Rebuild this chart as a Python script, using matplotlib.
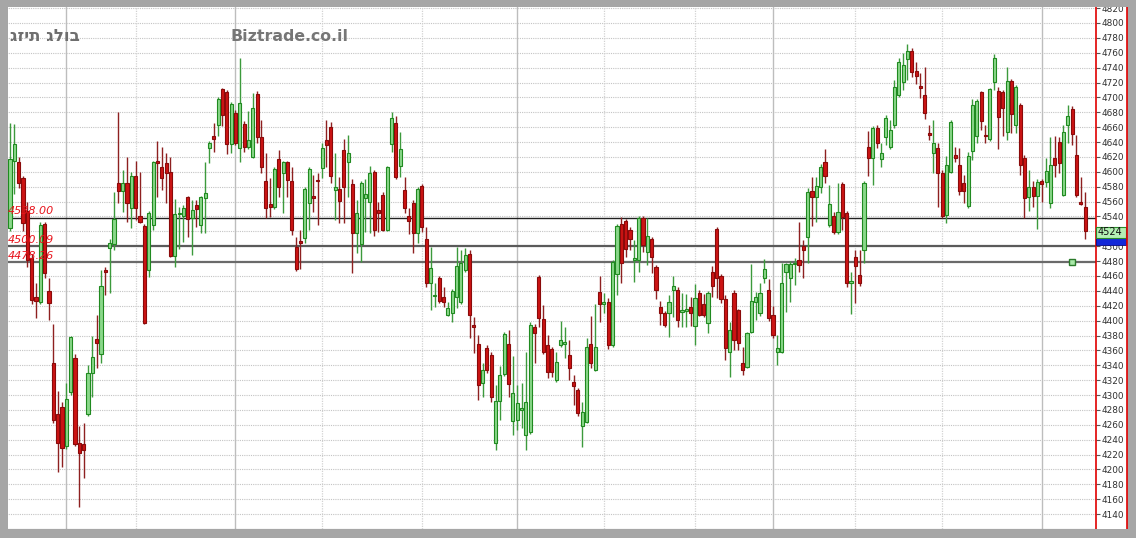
import matplotlib
matplotlib.use('Agg')
import matplotlib.pyplot as plt
import matplotlib.transforms as mtransforms
from matplotlib.patches import Rectangle
from matplotlib.lines import Line2D
import numpy as np

# daily candles (open, high, low, close)
opens = [4524, 4615, 4613, 4592, 4548, 4484, 4432, 4425, 4530, 4440,
         4343, 4274, 4284, 4231, 4304, 4350, 4235, 4234, 4274, 4330,
         4375, 4355, 4468, 4498, 4503, 4585, 4574, 4585, 4551, 4594,
         4541, 4527, 4468, 4528, 4614, 4606, 4612, 4600, 4487, 4543,
         4541, 4566, 4538, 4555, 4528, 4565, 4632, 4648, 4663, 4711,
         4707, 4637, 4679, 4632, 4664, 4633, 4620, 4704, 4647, 4588,
         4557, 4553, 4617, 4598, 4613, 4588, 4499, 4507, 4511, 4558,
         4567, 4589, 4605, 4643, 4660, 4576, 4577, 4629, 4613, 4584,
         4518, 4503, 4565, 4559, 4600, 4549, 4569, 4522, 4637, 4666,
         4608, 4576, 4540, 4558, 4518, 4581, 4510, 4451, 4433, 4457,
         4432, 4408, 4410, 4432, 4425, 4468, 4490, 4394, 4369, 4316,
         4363, 4354, 4235, 4292, 4328, 4369, 4265, 4266, 4280, 4246,
         4250, 4391, 4459, 4402, 4367, 4362, 4320, 4367, 4369, 4354,
         4317, 4307, 4258, 4264, 4369, 4334, 4438, 4423, 4425, 4367,
         4463, 4530, 4534, 4522, 4481, 4481, 4538, 4492, 4510, 4472,
         4418, 4410, 4410, 4441, 4441, 4412, 4413, 4418, 4393, 4437,
         4422, 4397, 4465, 4523, 4460, 4429, 4358, 4437, 4414, 4343,
         4338, 4385, 4425, 4410, 4457, 4441, 4407, 4358, 4358, 4465,
         4457, 4476, 4481, 4500, 4512, 4574, 4566, 4580, 4613, 4528,
         4541, 4519, 4584, 4545, 4451, 4485, 4461, 4495, 4633, 4619,
         4659, 4617, 4647, 4633, 4663, 4703, 4721, 4752, 4762, 4735,
         4715, 4703, 4650, 4625, 4632, 4598, 4542, 4600, 4623, 4609,
         4585, 4554, 4628, 4648, 4707, 4650, 4644, 4721, 4709, 4707,
         4653, 4722, 4663, 4690, 4619, 4566, 4580, 4567, 4587, 4586,
         4558, 4619, 4640, 4569, 4663, 4684, 4623, 4560, 4553]
highs = [4666, 4664, 4620, 4595, 4560, 4490, 4450, 4532, 4533, 4457,
         4396, 4305, 4290, 4316, 4380, 4355, 4258, 4262, 4340, 4380,
         4408, 4468, 4472, 4510, 4573, 4680, 4603, 4620, 4600, 4615,
         4600, 4530, 4548, 4615, 4641, 4633, 4625, 4620, 4563, 4553,
         4556, 4568, 4562, 4562, 4568, 4613, 4641, 4666, 4700, 4713,
         4710, 4694, 4683, 4753, 4668, 4682, 4706, 4708, 4670, 4625,
         4592, 4606, 4629, 4615, 4615, 4606, 4512, 4522, 4580, 4606,
         4596, 4598, 4639, 4670, 4667, 4625, 4593, 4644, 4649, 4590,
         4562, 4587, 4590, 4608, 4603, 4559, 4573, 4608, 4680, 4675,
         4654, 4593, 4551, 4562, 4580, 4584, 4526, 4499, 4451, 4460,
         4445, 4425, 4442, 4499, 4495, 4497, 4495, 4405, 4381, 4343,
         4367, 4358, 4313, 4339, 4385, 4387, 4352, 4313, 4316, 4358,
         4398, 4395, 4462, 4421, 4381, 4365, 4358, 4400, 4391, 4374,
         4327, 4310, 4291, 4377, 4406, 4423, 4460, 4437, 4430, 4481,
         4530, 4539, 4537, 4526, 4508, 4541, 4541, 4538, 4513, 4475,
         4426, 4413, 4434, 4460, 4445, 4437, 4436, 4432, 4449, 4441,
         4436, 4440, 4473, 4526, 4463, 4435, 4398, 4441, 4416, 4365,
         4385, 4476, 4438, 4451, 4483, 4456, 4420, 4381, 4477, 4478,
         4480, 4484, 4533, 4508, 4578, 4593, 4593, 4610, 4630, 4582,
         4546, 4585, 4586, 4548, 4465, 4495, 4495, 4588, 4655, 4661,
         4663, 4639, 4676, 4670, 4723, 4753, 4760, 4772, 4766, 4748,
         4733, 4741, 4663, 4670, 4639, 4602, 4621, 4669, 4633, 4632,
         4596, 4627, 4698, 4698, 4709, 4663, 4713, 4758, 4714, 4710,
         4741, 4725, 4717, 4692, 4622, 4602, 4588, 4590, 4590, 4619,
         4647, 4648, 4647, 4663, 4690, 4688, 4649, 4593, 4573]
lows = [4520, 4570, 4578, 4521, 4472, 4423, 4404, 4422, 4457, 4401,
        4262, 4196, 4203, 4228, 4300, 4232, 4150, 4188, 4272, 4297,
        4336, 4343, 4434, 4437, 4495, 4558, 4546, 4533, 4525, 4535,
        4531, 4396, 4459, 4522, 4566, 4576, 4558, 4485, 4472, 4496,
        4506, 4512, 4488, 4526, 4518, 4518, 4612, 4627, 4648, 4662,
        4624, 4625, 4636, 4613, 4627, 4631, 4618, 4639, 4598, 4538,
        4539, 4550, 4566, 4545, 4566, 4515, 4467, 4469, 4504, 4522,
        4546, 4528, 4592, 4606, 4585, 4535, 4531, 4531, 4566, 4464,
        4491, 4479, 4519, 4518, 4514, 4519, 4520, 4520, 4627, 4590,
        4593, 4545, 4516, 4491, 4504, 4519, 4445, 4414, 4418, 4424,
        4418, 4406, 4398, 4417, 4423, 4465, 4377, 4356, 4293, 4297,
        4330, 4291, 4226, 4266, 4325, 4297, 4246, 4253, 4256, 4226,
        4247, 4343, 4391, 4355, 4323, 4324, 4318, 4365, 4350, 4320,
        4287, 4272, 4230, 4262, 4336, 4332, 4398, 4410, 4362, 4365,
        4434, 4451, 4485, 4495, 4452, 4465, 4492, 4475, 4464, 4429,
        4394, 4391, 4378, 4405, 4391, 4391, 4391, 4393, 4367, 4406,
        4405, 4383, 4432, 4430, 4424, 4347, 4324, 4360, 4360, 4327,
        4336, 4383, 4401, 4406, 4451, 4400, 4377, 4340, 4356, 4412,
        4425, 4448, 4465, 4457, 4477, 4527, 4533, 4571, 4585, 4526,
        4517, 4517, 4522, 4445, 4409, 4424, 4447, 4477, 4594, 4582,
        4632, 4606, 4636, 4631, 4659, 4700, 4710, 4723, 4727, 4718,
        4699, 4671, 4643, 4598, 4553, 4538, 4531, 4598, 4613, 4569,
        4558, 4552, 4616, 4639, 4656, 4639, 4642, 4710, 4631, 4648,
        4643, 4652, 4652, 4596, 4538, 4547, 4553, 4523, 4559, 4580,
        4551, 4593, 4598, 4567, 4639, 4636, 4566, 4555, 4510]
closes = [4617, 4637, 4585, 4531, 4481, 4428, 4426, 4528, 4464, 4424,
          4266, 4235, 4229, 4295, 4378, 4234, 4222, 4226, 4330, 4351,
          4370, 4446, 4465, 4505, 4537, 4574, 4585, 4558, 4594, 4551,
          4533, 4397, 4545, 4613, 4612, 4592, 4598, 4487, 4543, 4545,
          4551, 4537, 4549, 4550, 4566, 4572, 4639, 4644, 4698, 4676,
          4637, 4691, 4639, 4692, 4633, 4643, 4686, 4647, 4606, 4551,
          4553, 4604, 4580, 4613, 4589, 4522, 4469, 4504, 4577, 4604,
          4565, 4587, 4632, 4636, 4594, 4579, 4561, 4580, 4625, 4518,
          4545, 4585, 4570, 4598, 4522, 4545, 4522, 4606, 4672, 4593,
          4631, 4551, 4534, 4518, 4577, 4526, 4451, 4471, 4434, 4426,
          4425, 4417, 4440, 4473, 4477, 4488, 4407, 4391, 4313, 4334,
          4334, 4297, 4292, 4327, 4382, 4315, 4303, 4289, 4283, 4291,
          4394, 4383, 4404, 4358, 4331, 4331, 4344, 4374, 4371, 4336,
          4312, 4276, 4277, 4365, 4343, 4365, 4423, 4425, 4367, 4479,
          4527, 4477, 4496, 4510, 4484, 4538, 4502, 4514, 4485, 4441,
          4410, 4394, 4425, 4446, 4401, 4414, 4415, 4410, 4430, 4408,
          4408, 4437, 4446, 4457, 4429, 4363, 4387, 4374, 4370, 4334,
          4383, 4426, 4432, 4437, 4469, 4404, 4381, 4363, 4451, 4476,
          4476, 4477, 4475, 4495, 4573, 4566, 4581, 4606, 4594, 4557,
          4519, 4546, 4539, 4451, 4453, 4473, 4451, 4585, 4619, 4659,
          4639, 4625, 4672, 4656, 4714, 4748, 4744, 4762, 4734, 4729,
          4713, 4679, 4649, 4639, 4598, 4541, 4609, 4667, 4619, 4574,
          4574, 4621, 4690, 4695, 4668, 4648, 4711, 4753, 4674, 4686,
          4722, 4678, 4714, 4609, 4565, 4580, 4567, 4586, 4584, 4601,
          4609, 4609, 4612, 4654, 4675, 4651, 4569, 4557, 4520]

levels = [4538.00, 4500.09, 4478.26]
level_labels = ['4538.00', '4500.09', '4478.26']
month_idx = [13, 29, 52, 72, 95, 117, 137, 158, 176, 195, 215, 238]
quarter_idx = [13, 52, 117, 176, 238]
last_price = 4524
marker_idx = 245
y_ticks = list(range(4140, 4821, 20))
hidden_ticks = [4520]  # covered by the last-price box
title_he = 'גזית גלוב'
site = 'Biztrade.co.il'

W, H = 1136, 538
fig = plt.figure(figsize=(W / 100, H / 100), dpi=100, facecolor='#a6a6a6')


def fx(px):
    return px / W


def fy(py):
    return 1 - py / H


# white panel (chart + price scale)
fig.patches.append(Rectangle((fx(8), fy(529)), fx(1127) - fx(8), fy(7) - fy(529),
                             transform=fig.transFigure, facecolor='white',
                             edgecolor='none', zorder=-1))

ax = fig.add_axes([fx(8), fy(529), fx(1096) - fx(8), fy(7) - fy(529)])
ax.set_facecolor('white')
ax.set_xlim(-0.46, 250.5)
ax.set_ylim(4120, 4821.5)

o = np.array(opens, float)
h = np.array(highs, float)
l = np.array(lows, float)
c = np.array(closes, float)
x = np.arange(len(o))
up = c >= o

# grid
ax.hlines(y_ticks, -1, 252, color='#c4c4c4', lw=0.8, linestyles=(0, (1, 1)), zorder=0)
for m in month_idx:
    if m in quarter_idx:
        ax.axvline(m, color='#bdbdbd', lw=1.0, zorder=0)
    else:
        ax.axvline(m, color='#d2d2d2', lw=0.9, ls=(0, (1, 1)), zorder=0)

# levels
lev_colors = ['#202020', '#5a5a5a', '#6a6a6a']
lev_widths = [1.0, 1.6, 1.6]
for lv, lab, col, lw in zip(levels, level_labels, lev_colors, lev_widths):
    ax.axhline(lv, color=col, lw=lw, zorder=1)
    ax.text(-0.4, lv + 2, lab, color='#e8141c', fontsize=8, style='italic',
            va='bottom', ha='left', zorder=6)

# candles
body = np.where(np.abs(c - o) < 2, 2, c - o)
ax.vlines(x[up], l[up], h[up], color='#3c9a3c', lw=1, zorder=2)
ax.vlines(x[~up], l[~up], h[~up], color='#8e2020', lw=1, zorder=2)
ax.bar(x[up], body[up], bottom=o[up], width=0.72, color='#8ad88a',
       edgecolor='#208a20', lw=0.8, zorder=3)
ax.bar(x[~up], body[~up], bottom=o[~up], width=0.72, color='#cc1414',
       edgecolor='#8a0a0a', lw=0.8, zorder=3)

ax.plot([marker_idx], [levels[2]], marker='s', ms=5, mfc='#a8e8a8',
        mec='#2a7a2a', mew=1, zorder=4)

# axes styling
for s in ['left', 'top']:
    ax.spines[s].set_visible(False)
ax.spines['bottom'].set_color('#606060')
ax.spines['right'].set_color('#e00000')
ax.spines['right'].set_linewidth(1.2)
ax.set_xticks([])
ax.yaxis.tick_right()
ax.set_yticks(y_ticks)
ax.set_yticklabels(['' if v in hidden_ticks else str(v) for v in y_ticks])
ax.tick_params(axis='y', direction='out', length=3, width=0.8, color='#555555',
               labelsize=6.4, labelcolor='#303030', pad=1)

# price boxes on the scale
blend = mtransforms.blended_transform_factory(ax.transAxes, ax.transData)
bw = 30 / 1088
ax.add_patch(Rectangle((1.0, levels[1] + 1), bw, 9.5, transform=blend,
                       facecolor='#1428d8', edgecolor='#0a0a80', lw=0.6,
                       clip_on=False, zorder=5))
ax.add_patch(Rectangle((1.0, last_price - 13), bw, 15, transform=blend,
                       facecolor='#b4f0b4', edgecolor='#2a8a2a', lw=0.8,
                       clip_on=False, zorder=5))
ax.text(1.001, last_price - 5.5, str(last_price), transform=blend, fontsize=7,
        color='#101010', va='center', ha='left', zorder=6, clip_on=False)

# second red line of the price scale
fig.add_artist(Line2D([fx(1127), fx(1127)], [fy(529), fy(7)], color='#e00000',
                      lw=1.2, transform=fig.transFigure, zorder=8))

# gray frame drawn on top
for (x0, y0, x1, y1) in [(0, 0, W, 7), (0, 529, W, H), (0, 0, 8, H), (1128, 0, W, H)]:
    fig.add_artist(Rectangle((fx(x0), fy(y1)), fx(x1) - fx(x0), fy(y0) - fy(y1),
                             transform=fig.transFigure, facecolor='#a6a6a6',
                             edgecolor='none', zorder=10))

# header texts (Hebrew drawn in stored order, as the source chart does)
fig.text(fx(10), fy(41), title_he, fontsize=12, color='#6e6e6e',
         fontweight='bold', va='baseline', ha='left', family='DejaVu Sans')
fig.text(fx(231), fy(41), site, fontsize=11.3, color='#767676',
         fontweight='bold', va='baseline', ha='left')

fig.savefig('out.png', dpi=100, facecolor=fig.get_facecolor())
